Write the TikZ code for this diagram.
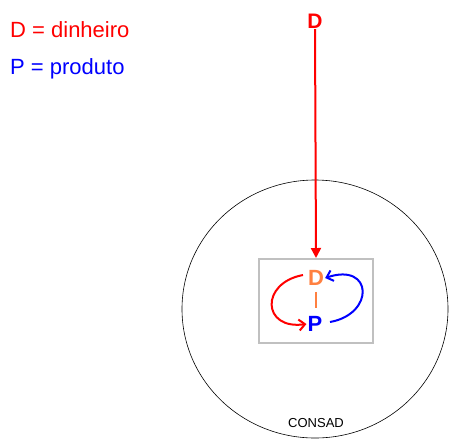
\documentclass[tikz,border=0pt]{standalone}
\usepackage{fontspec}
\setmainfont{Liberation Sans}
\usetikzlibrary{arrows.meta,positioning,shapes.geometric}

\begin{document}
\begin{tikzpicture}[
    x=1pt, y=-1pt,
    legtext/.style={font=\fontsize{22}{24}\selectfont, anchor=base west, inner sep=0pt},
    bigletter/.style={font=\fontsize{21}{24}\selectfont\bfseries, inner sep=1pt},
    boxletter/.style={font=\fontsize{22}{24}\selectfont\bfseries, inner sep=1pt},
    flow/.style={line width=2pt},
    loopred/.style={flow, red, -{Straight Barb[length=6pt,width=11pt,line width=2pt]}},
    loopblue/.style={flow, blue, -{Straight Barb[length=6pt,width=11pt,line width=2pt]}}
]

% Colours
\definecolor{dorange}{HTML}{FF8040}
\definecolor{boxgray}{HTML}{C0C0C0}

% Page frame
\useasboundingbox (0,0) rectangle (449,440);

% Legend
\node[legtext, text=red]  (legD) at (10,37.5) {D = dinheiro};
\node[legtext, text=blue] (legP) at (10,74)   {P = produto};

% Company circle and inner box
\node[draw, ellipse, line width=0.6pt, minimum width=266pt, minimum height=258pt, inner sep=0pt] (consad) at (315,309) {};
\node[draw=boxgray, line width=2pt, minimum width=114pt, minimum height=84pt, inner sep=0pt] (box) at (316,301) {};
\node[font=\fontsize{13}{15}\selectfont] (lbl) at (316,423) {CONSAD};

% Money entering from outside
\node[bigletter, text=red, anchor=base] (dtop) at (315,28) {D};
\draw[flow, red, -{Triangle[length=10pt,width=10pt]}] (dtop.south) -- (box.north);

% Cycle D - P
\node[boxletter, text=dorange] (din) at (316,278) {D};
\node[boxletter, text=blue]    (pin) at (315,324) {P};
\draw[dorange, line width=2.5pt, shorten >=7pt, shorten <=5pt] (din.south) -- (din.south |- pin.north);

\coordinate (rs) at (303,275);
\coordinate (bs) at (330,322);
\draw[loopred]  (rs) .. controls (260,283) and (262,330) .. (pin.west);
\draw[loopblue] (bs) .. controls (375,314) and (373,262) .. (din.east);

\end{tikzpicture}
\end{document}
